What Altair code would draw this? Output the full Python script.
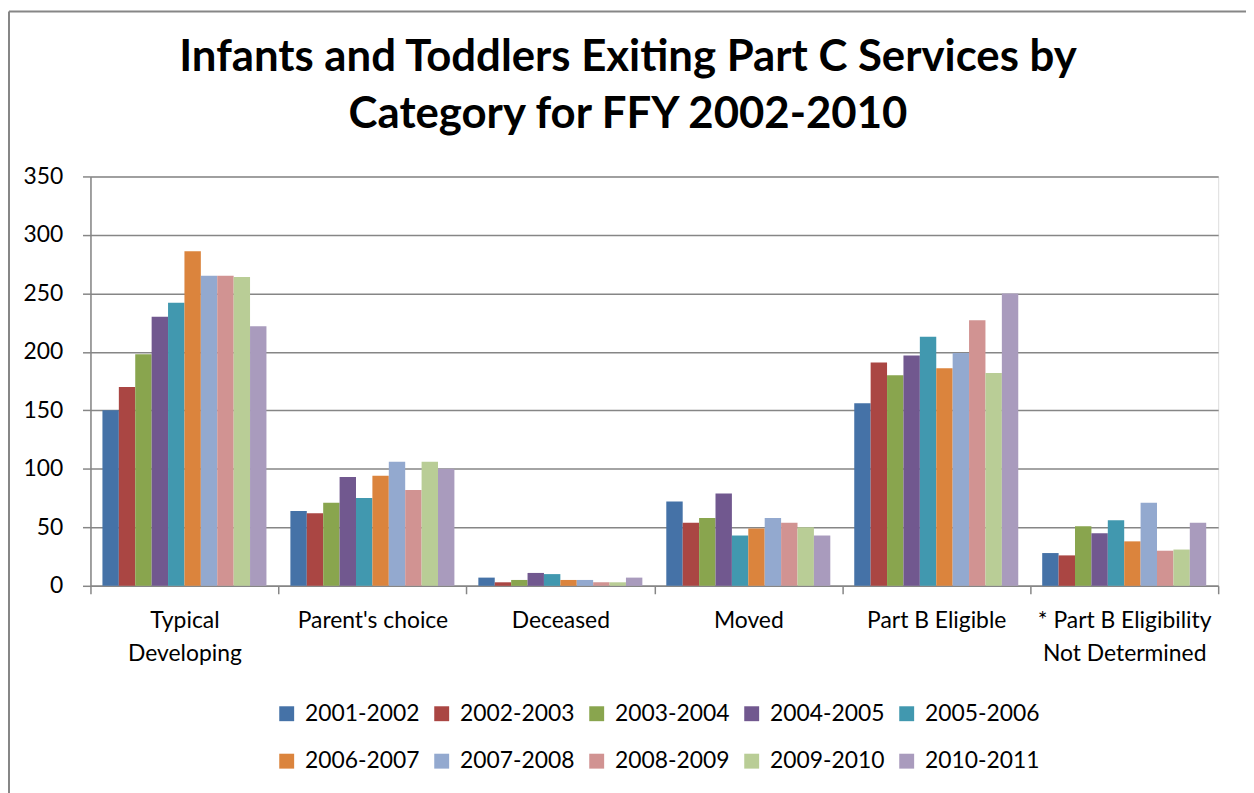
import altair as alt
import pandas as pd

title_lines = ["Infants and Toddlers Exiting Part C Services by", "Category for FFY 2002-2010"]
categories = ["Typical Developing", "Parent's choice", "Deceased", "Moved",
              "Part B Eligible", "* Part B Eligibility Not Determined"]
years = ["2001-2002", "2002-2003", "2003-2004", "2004-2005", "2005-2006",
         "2006-2007", "2007-2008", "2008-2009", "2009-2010", "2010-2011"]

typical_developing = [150, 170, 198, 230, 242, 286, 265, 265, 264, 222]
parents_choice = [64, 62, 71, 93, 75, 94, 106, 82, 106, 100]
deceased = [7, 3, 5, 11, 10, 5, 5, 3, 3, 7]
moved = [72, 54, 58, 79, 43, 49, 58, 54, 50, 43]
part_b_eligible = [156, 191, 180, 197, 213, 186, 199, 227, 182, 250]
not_determined = [28, 26, 51, 45, 56, 38, 71, 30, 31, 54]

y_ticks = [0, 50, 100, 150, 200, 250, 300, 350]

colors = ["#4572A7", "#AA4643", "#89A54E", "#71588F", "#4198AF",
          "#DB843D", "#93A9CF", "#D19392", "#B9CD96", "#A99BBD"]

series = [typical_developing, parents_choice, deceased, moved,
          part_b_eligible, not_determined]
rows = []
for cat, vals in zip(categories, series):
    for yr, v in zip(years, vals):
        rows.append({"category": cat, "year": yr, "value": v})
df = pd.DataFrame(rows)

label_expr = ("datum.label == 'Typical Developing' ? ['Typical', 'Developing'] : "
              "datum.label == '* Part B Eligibility Not Determined' ? "
              "['* Part B Eligibility', 'Not Determined'] : datum.label")

FONT = "Lato"
GRAY = "#868686"
FS = 23

bars = alt.Chart(df).mark_bar(strokeWidth=0).encode(
    x=alt.X("category:N", sort=categories,
            scale=alt.Scale(paddingInner=0, paddingOuter=0),
            axis=alt.Axis(title=None, labelAngle=0, tickBand="extent",
                          labelExpr=label_expr, labelFont=FONT, labelFontSize=FS,
                          labelColor="#000000", labelLineHeight=33,
                          labelPadding=16, tickSize=8, tickColor=GRAY,
                          tickWidth=1.5, domainColor=GRAY, domainWidth=1.5,
                          grid=False, labelLimit=400)),
    xOffset=alt.XOffset("year:N", sort=years,
                        scale=alt.Scale(paddingInner=0, paddingOuter=0.73)),
    y=alt.Y("value:Q", scale=alt.Scale(domain=[0, 350], nice=False),
            axis=alt.Axis(title=None, values=y_ticks, labelFont=FONT,
                          labelFontSize=FS, labelColor="#000000",
                          labelPadding=20, tickSize=8, tickColor=GRAY,
                          tickWidth=1.5, domainColor=GRAY, domainWidth=1.5,
                          grid=True, gridColor=GRAY, gridWidth=1.5)),
    color=alt.Color("year:N", sort=years,
                    scale=alt.Scale(domain=years, range=colors),
                    legend=alt.Legend(title=None, orient="none", legendX=186,
                                      legendY=529, columns=5, direction="horizontal",
                                      symbolType="square",
                                      symbolSize=225, symbolStrokeWidth=0,
                                      labelFont=FONT, labelFontSize=FS,
                                      labelColor="#000000", labelOffset=7,
                                      columnPadding=10, rowPadding=24)),
)

one = pd.DataFrame({"k": [0]})
frame_left = alt.Chart(one).mark_rule(color=GRAY, strokeWidth=2).encode(
    x=alt.value(-82), y=alt.value(-166), y2=alt.value(700))
frame_top = alt.Chart(one).mark_rule(color=GRAY, strokeWidth=2).encode(
    x=alt.value(-82), x2=alt.value(1200), y=alt.value(-166))

title = alt.Chart(one).mark_text(
    font=FONT, fontSize=44, fontWeight="bold", color="#000000",
    align="center", baseline="alphabetic", lineHeight=57,
).encode(x=alt.value(541), y=alt.value(-106), text=alt.value(title_lines))

chart = alt.layer(bars, frame_left, frame_top, title).properties(
    width=1135, height=412,
    autosize=alt.AutoSizeParams(type="none"),
    padding={"left": 83, "top": 167, "right": 28, "bottom": 206},
).configure_view(stroke=None).configure(background="white")

chart.save("out.html", embed_options={"renderer": "svg", "actions": False})
